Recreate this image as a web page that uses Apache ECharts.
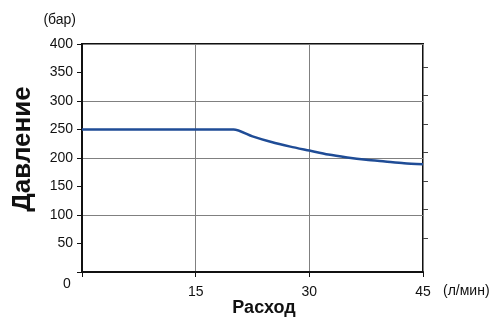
<!DOCTYPE html>
<html>
<head>
<meta charset="utf-8">
<script src="https://cdn.jsdelivr.net/npm/echarts@6/dist/echarts.min.js"></script>
<style>
  html, body { margin: 0; padding: 0; background: #fff; }
  #chart { width: 497px; height: 323px; }
</style>
</head>
<body>
<div id="chart"></div>
<script>
// расход, л/мин
var flow = [0, 20, 22.5, 25, 27.5, 30, 32.5, 35, 37.5, 40, 42.5, 45];
// давление, бар
var pressure = [250, 250, 238, 228, 220, 213, 206, 201, 197, 194, 191, 189];
var yTicks = [50, 100, 150, 200, 250, 300, 350];

var chart = echarts.init(document.getElementById('chart'));
var font = 'Liberation Sans, Arial, sans-serif';

chart.setOption({
    animation: false,
    grid: {
        left: 82, right: 74, top: 44, bottom: 51,
        show: true,
        borderColor: '#111',
        borderWidth: 2
    },
    xAxis: {
        type: 'value',
        min: 0, max: 45, interval: 15,
        name: '(л/мин)',
        nameLocation: 'end',
        nameGap: 20,
        nameTextStyle: { color: '#111', fontSize: 14, fontFamily: font, verticalAlign: 'top', padding: [12, 0, 0, 0] },
        axisLine: { show: true, lineStyle: { color: '#111', width: 2 } },
        axisTick: { show: true, length: 5, lineStyle: { color: '#111', width: 1 } },
        axisLabel: {
            color: '#111', fontSize: 14, fontFamily: font, margin: 13,
            formatter: function (v) { return v === 0 ? '' : v; }
        },
        splitLine: { show: true, lineStyle: { color: '#808080', width: 1 } }
    },
    yAxis: [
        {
            type: 'value',
            min: 0, max: 400, interval: 50,
            name: '(бар)',
            nameLocation: 'end',
            nameGap: 17,
            nameTextStyle: { color: '#111', fontSize: 14, fontFamily: font, align: 'right', padding: [0, 6, 0, 0] },
            axisLine: { show: true, lineStyle: { color: '#111', width: 2 } },
            axisTick: { show: true, length: 5, lineStyle: { color: '#111', width: 1 } },
            axisLabel: {
                color: '#111', fontSize: 14, fontFamily: font, margin: 9,
                formatter: function (v) { return v === 0 ? '' : v; }
            },
            splitLine: { show: true, lineStyle: { color: ['#808080', 'transparent'], width: 1 } }
        },
        {
            // правая шкала с рисками, чуть сдвинутыми вверх
            type: 'value',
            position: 'right',
            min: -10, max: 390,
            axisLine: { show: false },
            axisTick: { show: true, length: 5, customValues: yTicks, lineStyle: { color: '#444', width: 1 } },
            axisLabel: { show: false },
            splitLine: { show: false }
        }
    ],
    graphic: [
        {
            type: 'text', x: 23, y: 149, rotation: Math.PI / 2,
            style: { text: 'Давление', fontSize: 26, fontWeight: 'bold', fontFamily: font, fill: '#111', align: 'center', verticalAlign: 'middle' }
        },
        {
            type: 'text', x: 264, y: 308,
            style: { text: 'Расход', fontSize: 18, fontWeight: 'bold', fontFamily: font, fill: '#111', align: 'center', verticalAlign: 'middle' }
        },
        {
            type: 'text', x: 67, y: 284,
            style: { text: '0', fontSize: 14, fontFamily: font, fill: '#111', align: 'center', verticalAlign: 'middle' }
        }
    ],
    series: [
        {
            type: 'line',
            yAxisIndex: 0,
            data: flow.map(function (f, i) { return [f, pressure[i]]; }),
            showSymbol: false,
            smooth: 0.25,
            lineStyle: { color: '#1f4c96', width: 2.5 }
        }
    ]
});
</script>
</body>
</html>
